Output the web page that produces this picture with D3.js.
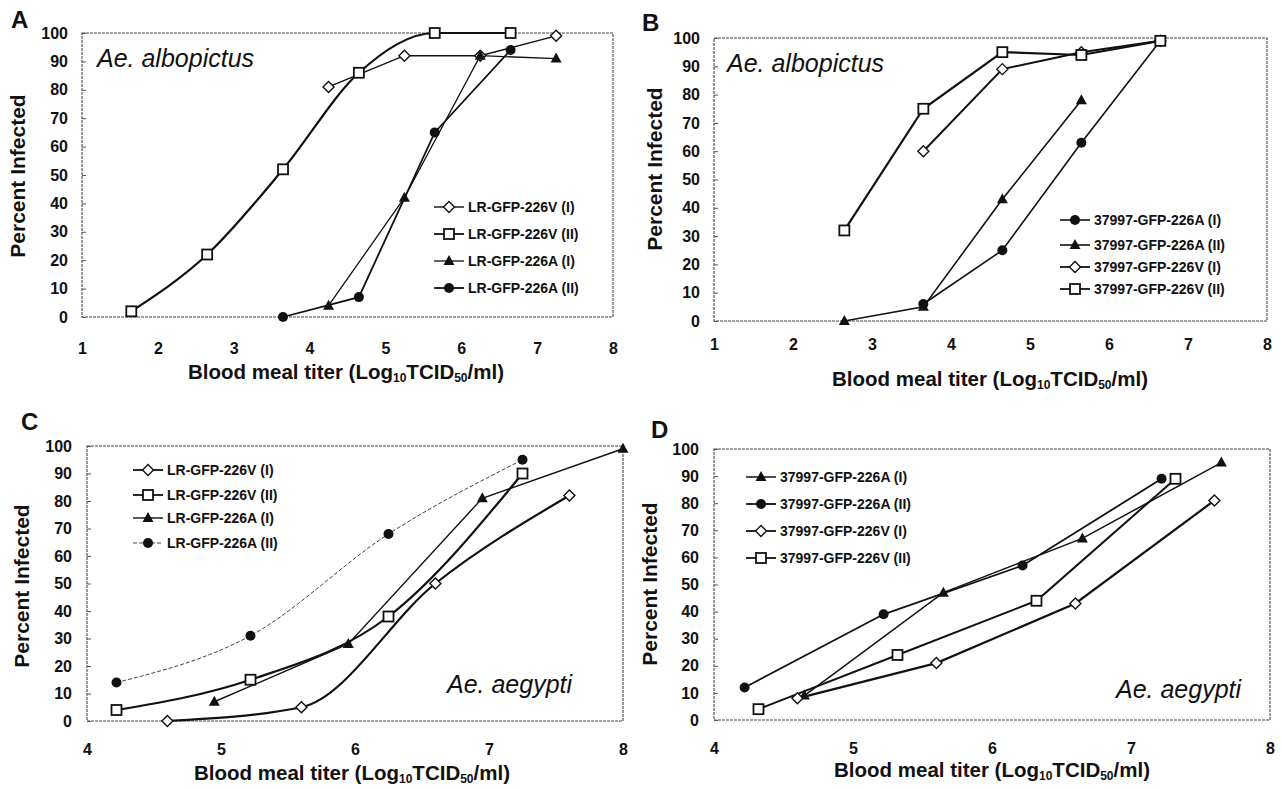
<!DOCTYPE html>
<html>
<head>
<meta charset="utf-8">
<script src="https://cdn.jsdelivr.net/npm/d3@7"></script>
<style>
  body { margin: 0; background: #fff; }
  text { font-family: "Liberation Sans", Arial, sans-serif; fill: #111; }
</style>
</head>
<body>
<div id="chart"></div>
<script>
// series names
const lrNames = ['LR-GFP-226V (I)', 'LR-GFP-226V (II)', 'LR-GFP-226A (I)', 'LR-GFP-226A (II)']
const bNames = ['37997-GFP-226A (I)', '37997-GFP-226A (II)', '37997-GFP-226V (I)', '37997-GFP-226V (II)']
const dNames = ['37997-GFP-226A (I)', '37997-GFP-226A (II)', '37997-GFP-226V (I)', '37997-GFP-226V (II)']

// tick labels
const yTicks = [0, 10, 20, 30, 40, 50, 60, 70, 80, 90, 100]
const xTicksTop = [1, 2, 3, 4, 5, 6, 7, 8]
const xTicksBottom = [4, 5, 6, 7, 8]

// panel A - Ae. albopictus, LR
const aV1x = [4.25, 5.25, 6.25, 7.25], aV1y = [81, 92, 92, 99]
const aV2x = [1.65, 2.65, 3.65, 4.65, 5.65, 6.65], aV2y = [2, 22, 52, 86, 100, 100]
const aA1x = [4.25, 5.25, 6.25, 7.25], aA1y = [4, 42, 92, 91]
const aA2x = [3.65, 4.65, 5.65, 6.65], aA2y = [0, 7, 65, 94]

// panel B - Ae. albopictus, 37997
const bA1x = [3.65, 4.65, 5.65, 6.65], bA1y = [6, 25, 63, 99]
const bA2x = [2.65, 3.65, 4.65, 5.65], bA2y = [0, 5, 43, 78]
const bV1x = [3.65, 4.65, 5.65, 6.65], bV1y = [60, 89, 95, 99]
const bV2x = [2.65, 3.65, 4.65, 5.65, 6.65], bV2y = [32, 75, 95, 94, 99]

// panel C - Ae. aegypti, LR
const cV1x = [4.6, 5.6, 6.6, 7.6], cV1y = [0, 5, 50, 82]
const cV2x = [4.22, 5.22, 6.25, 7.25], cV2y = [4, 15, 38, 90]
const cA1x = [4.95, 5.95, 6.95, 8], cA1y = [7, 28, 81, 99]
const cA2x = [4.22, 5.22, 6.25, 7.25], cA2y = [14, 31, 68, 95]

// panel D - Ae. aegypti, 37997
const dA1x = [4.65, 5.65, 6.65, 7.65], dA1y = [9, 47, 67, 95]
const dA2x = [4.22, 5.22, 6.22, 7.22], dA2y = [12, 39, 57, 89]
const dV1x = [4.6, 5.6, 6.6, 7.6], dV1y = [8, 21, 43, 81]
const dV2x = [4.32, 5.32, 6.32, 7.32], dV2y = [4, 24, 44, 89]

const zip = (xs, ys) => xs.map((x, i) => ({ x: x, y: ys[i] }))

const svg = d3.select('#chart').append('svg')
    .attr('width', 1282).attr('height', 789)
svg.append('rect').attr('width', 1282).attr('height', 789).attr('fill', '#fff')

// marker shapes, open or filled
function marker(g, shape, cx, cy) {
    if (shape === 'diamond') {
        g.append('path').attr('d', `M${cx},${cy - 5.5}L${cx + 5.5},${cy}L${cx},${cy + 5.5}L${cx - 5.5},${cy}Z`)
            .attr('fill', '#fff').attr('stroke', '#111').attr('stroke-width', 1.4)
    } else if (shape === 'square') {
        g.append('rect').attr('x', cx - 5).attr('y', cy - 5).attr('width', 10).attr('height', 10)
            .attr('fill', '#fff').attr('stroke', '#111').attr('stroke-width', 1.8)
    } else if (shape === 'triangle') {
        g.append('path').attr('d', `M${cx},${cy - 6}L${cx + 5.5},${cy + 4}L${cx - 5.5},${cy + 4}Z`)
            .attr('fill', '#111')
    } else {
        g.append('circle').attr('cx', cx).attr('cy', cy).attr('r', 5).attr('fill', '#111')
    }
}

function drawPanel(p) {
    const g = svg.append('g')
    const x = d3.scaleLinear().domain(p.domain).range([p.l, p.r])
    const y = d3.scaleLinear().domain([0, 100]).range([p.b, p.t])

    //frame
    g.append('rect').attr('x', p.l).attr('y', p.t).attr('width', p.r - p.l).attr('height', p.b - p.t)
        .attr('fill', 'none').attr('stroke', '#444').attr('stroke-width', 1.1).attr('stroke-dasharray', '3,1')

    //y axis
    const ya = g.append('g').attr('transform', `translate(${p.l},0)`)
        .call(d3.axisLeft(y).tickValues(yTicks).tickSizeInner(-4).tickSizeOuter(0).tickPadding(p.yPad))
    ya.select('.domain').remove()
    ya.selectAll('line').attr('stroke', '#555')
    ya.selectAll('text').attr('font-size', 16).attr('font-weight', 'bold').attr('fill', '#111')

    //x axis
    const xa = g.append('g').attr('transform', `translate(0,${p.b})`)
        .call(d3.axisBottom(x).tickValues(p.ticks).tickFormat(d3.format('d'))
            .tickSize(0).tickPadding(p.tickBase - p.b - 11.4))
    xa.select('.domain').remove()
    xa.selectAll('text').attr('font-size', 16).attr('font-weight', 'bold').attr('fill', '#111')

    //axis titles
    const xt = g.append('text').attr('x', p.titleX).attr('y', p.titleY)
        .attr('text-anchor', 'middle').attr('font-size', 20.5).attr('font-weight', 'bold')
    xt.append('tspan').text('Blood meal titer (Log')
    xt.append('tspan').attr('font-size', 12).attr('dy', 3).text('10')
    xt.append('tspan').attr('dy', -3).text('TCID')
    xt.append('tspan').attr('font-size', 12).attr('dy', 3).text('50')
    xt.append('tspan').attr('dy', -3).text('/ml)')

    g.append('text').attr('transform', `translate(${p.yTitleX},${p.yTitleY}) rotate(-90)`)
        .attr('text-anchor', 'middle').attr('font-size', 21).attr('font-weight', 'bold')
        .text('Percent Infected')

    //panel letter + species
    g.append('text').attr('x', p.letterX).attr('y', p.letterY)
        .attr('font-size', 24).attr('font-weight', 'bold').text(p.letter)
    g.append('text').attr('x', p.spX).attr('y', p.spY)
        .attr('font-size', 25).attr('font-style', 'italic').text(p.species)

    //lines
    p.series.forEach(s => {
        const data = zip(s.xs, s.ys)
        const line = d3.line().x(d => x(d.x)).y(d => y(d.y))
            .curve(s.smooth ? d3.curveMonotoneX : d3.curveLinear)
        g.append('path').datum(data).attr('d', line)
            .attr('fill', 'none').attr('stroke', s.color || '#111')
            .attr('stroke-width', s.w).attr('stroke-dasharray', s.dash || null)
    })
    //markers on top
    p.series.forEach(s => {
        zip(s.xs, s.ys).forEach(d => marker(g, s.shape, x(d.x), y(d.y)))
    })

    //legend
    p.series.forEach((s, i) => {
        const ly = p.legYs[i]
        g.append('line').attr('x1', p.legX).attr('x2', p.legX + 30).attr('y1', ly).attr('y2', ly)
            .attr('stroke', s.color || '#111').attr('stroke-width', Math.min(s.w, 1.8))
            .attr('stroke-dasharray', s.dash || null)
        marker(g, s.shape, p.legX + 15, ly)
        g.append('text').attr('x', p.legX + 34).attr('y', ly + 5)
            .attr('font-size', 14).attr('font-weight', 'bold').text(p.names[s.key])
    })
}

drawPanel({
    letter: 'A', letterX: 11, letterY: 28,
    l: 82, r: 613, t: 33, b: 317, domain: [1, 8], ticks: xTicksTop,
    yPad: 14, tickBase: 354, titleX: 346, titleY: 379, yTitleX: 25, yTitleY: 176,
    species: 'Ae. albopictus', spX: 97, spY: 67,
    names: lrNames, legX: 434, legYs: [207, 234, 261, 288],
    series: [
        { key: 0, xs: aV1x, ys: aV1y, shape: 'diamond', w: 1.4 },
        { key: 1, xs: aV2x, ys: aV2y, shape: 'square', w: 2.2, smooth: true },
        { key: 2, xs: aA1x, ys: aA1y, shape: 'triangle', w: 1.3 },
        { key: 3, xs: aA2x, ys: aA2y, shape: 'circle', w: 1.8 }
    ]
})

drawPanel({
    letter: 'B', letterX: 642, letterY: 31,
    l: 714, r: 1267, t: 38, b: 321, domain: [1, 8], ticks: xTicksTop,
    yPad: 14, tickBase: 350, titleX: 990, titleY: 386, yTitleX: 662, yTitleY: 169,
    species: 'Ae. albopictus', spX: 727, spY: 72,
    names: bNames, legX: 1060, legYs: [220, 245, 267, 289],
    series: [
        { key: 0, xs: bA1x, ys: bA1y, shape: 'circle', w: 1.6 },
        { key: 1, xs: bA2x, ys: bA2y, shape: 'triangle', w: 1.6 },
        { key: 2, xs: bV1x, ys: bV1y, shape: 'diamond', w: 2 },
        { key: 3, xs: bV2x, ys: bV2y, shape: 'square', w: 2.2 }
    ]
})

drawPanel({
    letter: 'C', letterX: 21, letterY: 430,
    l: 87, r: 623, t: 446, b: 721, domain: [4, 8], ticks: xTicksBottom,
    yPad: 15, tickBase: 755, titleX: 352, titleY: 780, yTitleX: 29, yTitleY: 586,
    species: 'Ae. aegypti', spX: 447, spY: 693,
    names: lrNames, legX: 133, legYs: [470, 495, 518, 543],
    series: [
        { key: 0, xs: cV1x, ys: cV1y, shape: 'diamond', w: 2.2, smooth: true },
        { key: 1, xs: cV2x, ys: cV2y, shape: 'square', w: 2.2, smooth: true },
        { key: 2, xs: cA1x, ys: cA1y, shape: 'triangle', w: 1.4 },
        { key: 3, xs: cA2x, ys: cA2y, shape: 'circle', w: 1, dash: '4,2', color: '#444', smooth: true }
    ]
})

drawPanel({
    letter: 'D', letterX: 651, letterY: 438,
    l: 714, r: 1270, t: 449, b: 720, domain: [4, 8], ticks: xTicksBottom,
    yPad: 15, tickBase: 754, titleX: 992, titleY: 777, yTitleX: 657, yTitleY: 584,
    species: 'Ae. aegypti', spX: 1116, spY: 698,
    names: dNames, legX: 746, legYs: [477, 504, 531, 558],
    series: [
        { key: 0, xs: dA1x, ys: dA1y, shape: 'triangle', w: 1.5 },
        { key: 1, xs: dA2x, ys: dA2y, shape: 'circle', w: 1.8 },
        { key: 2, xs: dV1x, ys: dV1y, shape: 'diamond', w: 2.2 },
        { key: 3, xs: dV2x, ys: dV2y, shape: 'square', w: 2 }
    ]
})
</script>
</body>
</html>
